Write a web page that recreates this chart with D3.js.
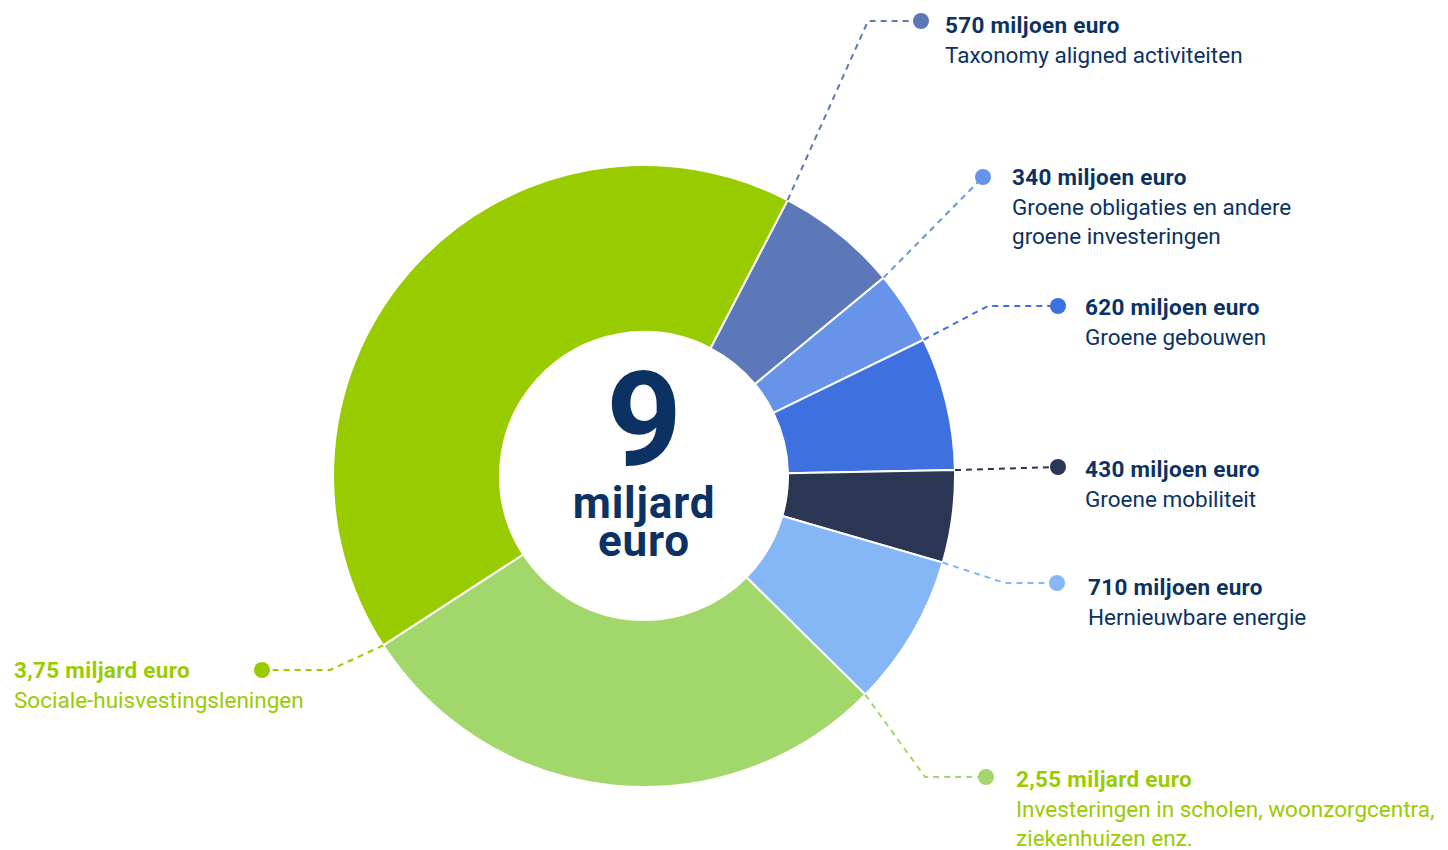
<!DOCTYPE html>
<html>
<head>
<meta charset="utf-8">
<script src="https://cdn.jsdelivr.net/npm/d3@7"></script>
<style>
  body { margin: 0; background: #fff; }
  svg { display: block; font-family: Roboto, "Noto Sans", sans-serif; }
</style>
</head>
<body>
<svg id="chart" width="1448" height="850"></svg>
<script>
// values in millions of euro, clockwise from the top-right
const categories = [
  'Taxonomy aligned activiteiten',
  'Groene obligaties en andere|groene investeringen',
  'Groene gebouwen',
  'Groene mobiliteit',
  'Hernieuwbare energie',
  'Investeringen in scholen, woonzorgcentra,|ziekenhuizen enz.',
  'Sociale-huisvestingsleningen'
];
const values = [570, 340, 620, 430, 710, 2550, 3750];
const valueLabels = [
  '570 miljoen euro',
  '340 miljoen euro',
  '620 miljoen euro',
  '430 miljoen euro',
  '710 miljoen euro',
  '2,55 miljard euro',
  '3,75 miljard euro'
];
const totalLabel = ['9', 'miljard', 'euro'];
const sliceColors = ['#5c78b8', '#6793e9', '#3e70e0', '#2b3654', '#85b6f5', '#a2d76b', '#99cc00'];
const textColors = ['#0c3264', '#0c3264', '#0c3264', '#0c3264', '#0c3264', '#99cc00', '#99cc00'];

// label layout: elbow point, dot point, text origin
const labelLayout = [
  { elbow: [868, 21], dot: [921, 21], text: [945, 33] },
  { elbow: null, dot: [983, 177], text: [1012, 185] },
  { elbow: [988, 306], dot: [1058, 306], text: [1085, 315] },
  { elbow: null, dot: [1058, 467], text: [1085, 477] },
  { elbow: [1005, 583], dot: [1057, 583], text: [1088, 595] },
  { elbow: [925, 777], dot: [986, 777], text: [1016, 787] },
  { elbow: [330, 670], dot: [262, 670], text: [14, 678] }
];

const cx = 644, cy = 476, outerR = 311, innerR = 144;
const startDeg = 27.5;

const svg = d3.select('#chart');
const g = svg.append('g').attr('transform', `translate(${cx},${cy})`);

const pie = d3.pie()
  .sort(null)
  .startAngle(startDeg * Math.PI / 180)
  .endAngle(startDeg * Math.PI / 180 + 2 * Math.PI);

const arc = d3.arc().innerRadius(innerR).outerRadius(outerR);
const arcs = pie(values);

g.selectAll('path.slice')
  .data(arcs)
  .enter()
  .append('path')
    .attr('class', 'slice')
    .attr('d', arc)
    .attr('fill', (d, i) => sliceColors[i])
    .attr('stroke', '#fff')
    .attr('stroke-width', 2);

// leader lines start at each slice's start edge on the outer rim
const rimPoint = a => [cx + outerR * Math.sin(a), cy - outerR * Math.cos(a)];

const labels = svg.append('g');
arcs.forEach((d, i) => {
  const lay = labelLayout[i];
  const pts = [rimPoint(d.startAngle)];
  if (lay.elbow) pts.push(lay.elbow);
  pts.push(lay.dot);

  labels.append('path')
    .attr('d', d3.line()(pts))
    .attr('fill', 'none')
    .attr('stroke', sliceColors[i])
    .attr('stroke-width', 2)
    .attr('stroke-dasharray', '6,5');

  labels.append('circle')
    .attr('cx', lay.dot[0])
    .attr('cy', lay.dot[1])
    .attr('r', 8)
    .attr('fill', sliceColors[i]);

  const t = labels.append('text')
    .attr('x', lay.text[0])
    .attr('y', lay.text[1])
    .attr('fill', textColors[i])
    .attr('font-size', 22.5);

  t.append('tspan')
    .attr('x', lay.text[0])
    .attr('font-weight', 700)
    .attr('letter-spacing', 0.3)
    .text(valueLabels[i]);

  categories[i].split('|').forEach(line => {
    t.append('tspan')
      .attr('x', lay.text[0])
      .attr('dy', 29.5)
      .attr('font-weight', 400)
      .text(line);
  });
});

// centre total, one text block
const centre = svg.append('text')
  .attr('x', cx).attr('y', 465)
  .attr('fill', '#0c3264')
  .attr('text-anchor', 'middle')
  .attr('font-weight', 700);
centre.append('tspan')
  .attr('x', cx)
  .attr('font-size', 132)
  .text(totalLabel[0]);
centre.append('tspan')
  .attr('x', cx).attr('dy', 53)
  .attr('font-size', 44)
  .attr('letter-spacing', 0.8)
  .text(totalLabel[1]);
centre.append('tspan')
  .attr('x', cx).attr('dy', 38)
  .attr('font-size', 44)
  .attr('letter-spacing', 0.8)
  .text(totalLabel[2]);
</script>
</body>
</html>
